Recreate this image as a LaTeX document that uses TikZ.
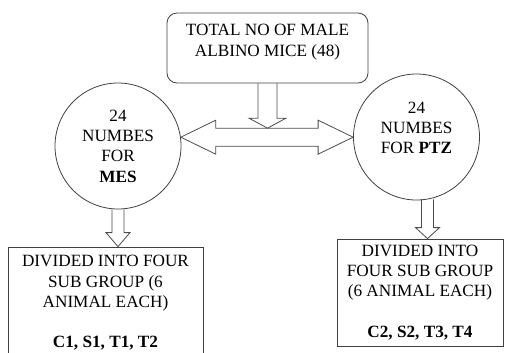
\documentclass[tikz,border=0pt]{standalone}
\usepackage{fontspec}
\setmainfont{Liberation Serif}
\usepackage{tikz}
\usetikzlibrary{calc}

\begin{document}
\begin{tikzpicture}[x=1bp,y=-1bp,
  every node/.style={font=\fontsize{17.2bp}{20.3bp}\selectfont, align=center, inner sep=0pt},
  shp/.style={draw=black!75, line width=0.8bp},
  blk/.style={draw=black!70, line width=0.8bp}]
  \useasboundingbox (0,0) rectangle (509,352);
  \clip (0,0) rectangle (509,352);
  \node[shp, rounded corners=10bp, minimum width=201bp, minimum height=70bp] (total) at (267.5,48) {};
  \node (totaltxt) at (267.5,42) {TOTAL NO OF MALE\\ALBINO MICE (48)};
  \node[shp, circle, minimum size=126bp] (mes) at (118,146) {24\\NUMBES\\FOR\\\textbf{MES}};
  \node[shp, circle, minimum size=126bp] (ptz) at (416.5,137) {};
  \node (ptztxt) at (416.5,128) {24\\NUMBES\\FOR \textbf{PTZ}};
  \node[shp, minimum width=195bp, minimum height=112bp] (sub1) at (105.5,303) {DIVIDED INTO FOUR\\SUB GROUP (6\\ANIMAL EACH)\\[20.3bp]\textbf{C1, S1, T1, T2}};
  \node[shp, minimum width=166bp, minimum height=107bp] (sub2) at (420,292.5) {DIVIDED INTO\\FOUR SUB GROUP\\(6 ANIMAL EACH)\\[20.3bp]\textbf{C2, S2, T3, T4}};
  \coordinate (ltip) at (mes.8);
  \coordinate (rtip) at (ltip -| ptz.west);
  \coordinate (ttip) at ($(total.south |- ltip)+(0,-9)$);
  \draw[blk] (ltip) -- ++(35,-17) -- ++(0,8) -- ($(rtip)+(-35,-9)$) -- ++(0,-8) -- (rtip) -- ++(-35,17) -- ++(0,-8) -- ($(ltip)+(35,9)$) -- ++(0,8) -- cycle;
  \draw[blk] ($(total.south)+(-9.5,0)$) -- ($(ttip)+(-9.5,-10)$) -- ++(-9,0) -- (ttip) -- ++(18.5,-10) -- ++(-9,0) -- ($(total.south)+(9.5,0)$);
  \draw[blk] ($(mes.south)+(-6,0)$) -- ($(mes.south |- sub1.north)+(-6,-14)$) -- ++(-6,0) -- (mes.south |- sub1.north) -- ++(12,-14) -- ++(-6,0) -- ($(mes.south)+(6,0)$);
  \draw[blk] ($(ptz.-80)+(-6,0)$) -- ($(ptz.-80 |- sub2.north)+(-6,-11)$) -- ++(-6,0) -- (ptz.-80 |- sub2.north) -- ++(12,-11) -- ++(-6,0) -- ($(ptz.-80)+(6,0)$);
\end{tikzpicture}
\end{document}
